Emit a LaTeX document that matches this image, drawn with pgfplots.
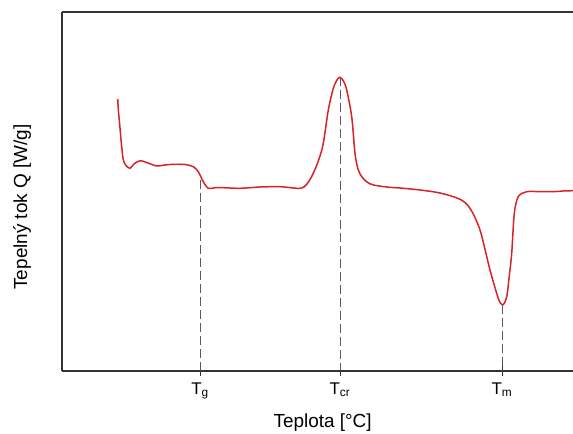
\documentclass[border=0pt]{standalone}
\usepackage{fontspec}
\setmainfont{Liberation Sans}
\usepackage{pgfplots}
\pgfplotsset{compat=1.18}
\definecolor{curvered}{RGB}{214,34,40}
\definecolor{dashgray}{RGB}{90,90,90}
\begin{document}
\begin{tikzpicture}
\useasboundingbox (0,0) rectangle (573bp,434bp);
\begin{axis}[
  at={(62bp,63bp)}, anchor=south west,
  scale only axis, width=511bp, height=359bp,
  xmin=62, xmax=573, ymin=63, ymax=422,
  axis lines=left,
  axis line style={-, line width=1.2pt, black!80},
  ytick=\empty,
  xtick={200,340,502},
  xticklabels={{T\textsubscript{g}},{T\textsubscript{cr}},{T\textsubscript{m}}},
  tick align=center,
  major tick length=10bp,
  tick style={line width=0.8pt, black!80},
  xticklabel style={font=\fontsize{17}{19}\selectfont, yshift=-3bp},
  xlabel={Teplota [°C]},
  ylabel={Tepelný tok Q [W/g]},
  xlabel style={font=\fontsize{19}{22}\selectfont, at={(axis description cs:0.51,-0.145)}, anchor=center},
  ylabel style={font=\fontsize{19}{22}\selectfont, at={(axis description cs:-0.078,0.457)}, anchor=center, rotate=0},
  clip=false,
]
\draw[line width=1.2pt, black!80] (rel axis cs:0,1) -- (rel axis cs:1,1);
% dashed guide lines
\addplot[dashgray, line width=0.8pt, dash pattern=on 9bp off 4bp] coordinates {(200,254) (200,63)};
\addplot[dashgray, line width=0.8pt, dash pattern=on 9bp off 4bp] coordinates {(340,357) (340,63)};
\addplot[dashgray, line width=0.8pt, dash pattern=on 9bp off 4bp] coordinates {(502.7,129) (502.7,63)};
% DSC curve (y = 434 - pixel)
\addplot[curvered, line width=1.5pt, smooth, tension=0.5] coordinates {
(117.7,335) (118.5,322) (119.3,314) (120.5,300) (121.7,287.3) (123.3,274) (126,268.5) (130,265.7)
(134,270) (140,273.3) (148,271) (156.7,268) (165,269) (173.3,269.7) (185,269.5) (193.3,267.3)
(198.3,262.3) (203.3,252.3) (208.3,245.7) (215,246.3) (223.3,246.3) (240,245.7) (260,247) (280,247.3)
(300,245.7) (307,250) (313.3,260.7) (319,275) (323.3,290.7) (328.3,324) (333.3,345.7) (337,354) (340,356.7)
(343.5,353) (346.7,344) (351.7,317.3) (355,280.7) (358,265) (361.7,257.3) (367,252) (373.3,249)
(389.3,246.7) (400,246) (420,244) (440,241) (460,234.7) (470,225.7) (480,204) (490,164) (498.3,135.7)
(502.7,129) (506.7,137.3) (509.5,160) (511.7,180.7) (514.3,220.7) (518.3,237.3) (526.7,242.3)
(540,242.3) (553.3,242.3) (563,243) (573,243.3)
};
\end{axis}
\end{tikzpicture}
\end{document}
